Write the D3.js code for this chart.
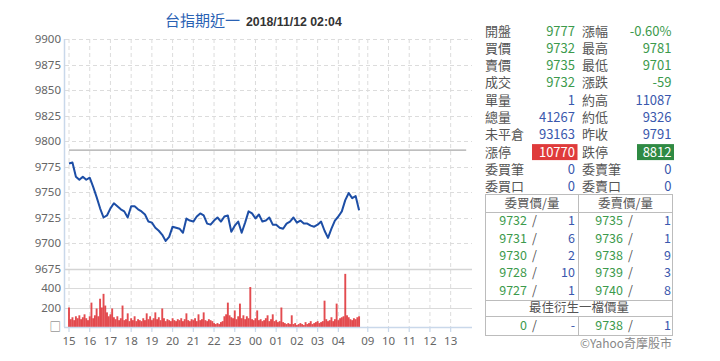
<!DOCTYPE html>
<html><head><meta charset="utf-8">
<script src="https://cdn.jsdelivr.net/npm/d3@7/dist/d3.min.js"></script>
<style>
html,body{margin:0;padding:0;background:#fff;}
svg{display:block;}
</style></head>
<body><svg id="c" width="720" height="361"></svg>
<script>
// ---------- DATA ----------
const title = "台指期近一";
const stamp = "2018/11/12 02:04";
const prevClose = 9791;
// price every 10 minutes from 15:00 (night session) to 05:00
const priceValues = [9778,9779,9765,9762,9765,9762,9764,9755,9745,9734,9725,9727,9734,9739,9736,9733,9731,9725,9736,9736,9733,9731,9728,9721,9720,9715,9712,9708,9702,9706,9716,9715,9714,9710,9724,9722,9721,9726,9729,9727,9719,9718,9722,9725,9721,9726,9727,9711,9717,9721,9710,9720,9731,9729,9724,9728,9721,9722,9725,9718,9718,9715,9714,9719,9721,9725,9720,9722,9719,9719,9717,9716,9718,9721,9712,9705,9714,9722,9726,9731,9742,9749,9744,9746,9732];
// volume every 5 minutes from 15:00 to 05:00
const volumeValues = [200,80,100,70,110,90,120,80,100,130,90,70,110,250,90,120,190,110,290,200,340,220,150,110,130,190,100,80,110,70,90,220,70,80,140,60,90,70,110,60,80,70,60,90,70,140,80,110,70,90,150,80,100,70,190,90,60,80,70,60,90,70,60,80,70,90,60,80,140,70,60,80,70,90,60,130,70,80,150,70,60,80,70,60,40,30,40,30,50,60,110,130,250,120,100,90,170,80,110,240,90,120,80,110,90,410,80,70,90,170,70,80,60,70,90,120,60,80,130,60,70,50,60,200,50,40,30,40,30,120,30,40,20,30,40,30,20,50,30,40,60,30,40,50,60,40,50,60,270,80,60,70,100,60,80,240,70,90,100,110,545,120,100,80,70,90,80,100,110];
const priceTicks = [9900,9875,9850,9825,9800,9775,9750,9725,9700,9675];
const volumeTicks = [400,200,0];
const hourLabels = ["15","16","17","18","19","20","21","22","23","00","01","02","03","04","09","10","11","12","13"];
const hourValues = [15,16,17,18,19,20,21,22,23,0,1,2,3,4,9,10,11,12,13];

const quoteRows = [
  ["開盤","9777","g","漲幅","-0.60%","g"],
  ["買價","9732","g","最高","9781","g"],
  ["賣價","9735","g","最低","9701","g"],
  ["成交","9732","g","漲跌","-59","g"],
  ["單量","1","b","約高","11087","b"],
  ["總量","41267","b","約低","9326","b"],
  ["未平倉","93163","b","昨收","9791","b"],
  ["漲停","10770","R","跌停","8812","G"],
  ["委買筆","0","b","委賣筆","0","b"],
  ["委買口","0","b","委賣口","0","b"]
];
const bidPrices = ["9732","9731","9730","9728","9727"];
const bidQty = ["1","6","2","10","1"];
const askPrices = ["9735","9736","9738","9739","9740"];
const askQty = ["1","1","9","3","8"];
const bestRow = ["0","-","9738","1"];

// ---------- SCALES ----------
// session offset in hours: night 15:00..05:00 -> 0..14, day 09:00 -> 14.42
function sessionOffset(h){
  if (h >= 15) return h - 15;
  if (h < 8) return h + 9;
  return h - 9 + 14.42;
}
const x = d3.scaleLinear().domain([0, 19.17]).range([69, 466.2]);
const yP = d3.scaleLinear().domain([9675, 9900]).range([268.5, 39]);
const yV = d3.scaleLinear().domain([0, 400]).range([327, 288]);

const svg = d3.select("#c");
const FONT = "'Noto Sans', 'Noto Sans CJK TC', sans-serif";
const CJK = "'Noto Sans CJK TC', sans-serif";

// ---------- GRID ----------
const gx0 = 65, gx1 = 472;
const grid = svg.append("g");
grid.selectAll("line.vg").data(hourValues.map(sessionOffset).concat([14]))
  .enter().append("line")
  .attr("x1", d => x(d)).attr("x2", d => x(d))
  .attr("y1", 39).attr("y2", 327)
  .attr("stroke", "#dcdcdc").attr("stroke-dasharray", "4,3").attr("stroke-width", 1);
grid.selectAll("line.hg").data(priceTicks.slice(0, -1))
  .enter().append("line")
  .attr("x1", gx0).attr("x2", gx1)
  .attr("y1", d => Math.round(yP(d)) + 0.5).attr("y2", d => Math.round(yP(d)) + 0.5)
  .attr("stroke", "#dcdcdc").attr("stroke-dasharray", "4,3");
grid.append("line").attr("x1", gx0).attr("x2", gx1)
  .attr("y1", Math.round(yP(9675)) + 0.5).attr("y2", Math.round(yP(9675)) + 0.5)
  .attr("stroke", "#d4d4d4").attr("stroke-width", 1.5);
grid.selectAll("line.vgl").data([400, 200]).enter().append("line")
  .attr("x1", gx0).attr("x2", gx1)
  .attr("y1", d => Math.round(yV(d)) + 0.5).attr("y2", d => Math.round(yV(d)) + 0.5)
  .attr("stroke", "#dadada").attr("stroke-width", 1.2);

// reference line (previous close)
svg.append("line").attr("x1", x(0)).attr("x2", x(19.17))
  .attr("y1", yP(prevClose)).attr("y2", yP(prevClose))
  .attr("stroke", "#a8a8a8").attr("stroke-width", 1.3);

// ---------- VOLUME BARS ----------
const bw = 1.9;
svg.append("g").selectAll("rect").data(volumeValues).enter().append("rect")
  .attr("x", (d, i) => x(i / 12) - bw / 2)
  .attr("width", bw)
  .attr("y", d => yV(d))
  .attr("height", d => yV(0) - yV(d))
  .attr("fill", "#e0373c").attr("fill-opacity", 0.9);

// ---------- PRICE LINE ----------
const line = d3.line().x((d, i) => x(i / 6)).y(d => yP(d));
svg.append("path").datum(priceValues)
  .attr("d", line).attr("fill", "none")
  .attr("stroke", "#1d4ea6").attr("stroke-width", 2).attr("stroke-linejoin", "round");

// ---------- AXES ----------
svg.append("line").attr("x1", 64.5).attr("x2", 64.5).attr("y1", 39).attr("y2", 327)
  .attr("stroke", "#c9d8ea").attr("stroke-width", 1.5);
svg.append("line").attr("x1", 64).attr("x2", gx1).attr("y1", 327.5).attr("y2", 327.5)
  .attr("stroke", "#c9d8ea").attr("stroke-width", 1.5);
svg.append("g").selectAll("line").data(hourValues.map(sessionOffset)).enter().append("line")
  .attr("x1", d => x(d)).attr("x2", d => x(d)).attr("y1", 327).attr("y2", 332)
  .attr("stroke", "#c9d8ea").attr("stroke-width", 1.2);

svg.append("g").selectAll("text").data(priceTicks).enter().append("text")
  .attr("x", 61).attr("y", d => yP(d)).attr("dy", "0.35em")
  .attr("text-anchor", "end").attr("font-family", FONT).attr("font-size", 11.5)
  .attr("fill", "#666").text(d => d);
svg.append("g").selectAll("text").data(volumeTicks).enter().append("text")
  .attr("x", 61).attr("y", d => yV(d)).attr("dy", "0.35em")
  .attr("text-anchor", "end").attr("font-family", FONT).attr("font-size", 11.5)
  .attr("fill", "#666").text(d => d === 0 ? "□" : d);
svg.append("g").selectAll("text").data(hourLabels).enter().append("text")
  .attr("x", (d, i) => x(sessionOffset(hourValues[i]))).attr("y", 341).attr("dy", "0.35em")
  .attr("text-anchor", "middle").attr("font-family", FONT).attr("font-size", 11.5)
  .attr("fill", "#666").text(d => d);

// ---------- TITLE ----------
svg.append("text").attr("x", 165).attr("y", 21).attr("dy", "0.35em")
  .attr("font-family", CJK).attr("font-size", 15).attr("fill", "#2a62b4").text(title);
svg.append("text").attr("x", 246).attr("y", 22).attr("dy", "0.35em")
  .attr("font-family", "'Liberation Sans', Arial, sans-serif").attr("font-weight", "bold")
  .attr("font-size", 12.3).attr("fill", "#333").text(stamp);

// ---------- QUOTE TABLE ----------
const colors = { g: "#3c9a4c", b: "#3a58ad" };
const qt = svg.append("g").attr("font-family", CJK).attr("font-size", 13);
quoteRows.forEach((r, i) => {
  const y = 31 + i * 17.3;
  qt.append("text").attr("x", 485).attr("y", y).attr("dy", "0.35em").attr("fill", "#555").text(r[0]);
  qt.append("text").attr("x", 582).attr("y", y).attr("dy", "0.35em").attr("fill", "#555").text(r[3]);
  [[r[1], r[2], 575, 532, 577.5], [r[4], r[5], 671.5, 637, 674]].forEach(([v, c, xr, bx0, bx1]) => {
    if (c === "R" || c === "G") {
      qt.append("rect").attr("x", bx0).attr("y", y - 8).attr("width", bx1 - bx0).attr("height", 16)
        .attr("fill", c === "R" ? "#df3b3b" : "#2f8a43");
      qt.append("text").attr("x", xr).attr("y", y).attr("dy", "0.35em").attr("text-anchor", "end")
        .attr("fill", "#fff").text(v);
    } else {
      qt.append("text").attr("x", xr).attr("y", y).attr("dy", "0.35em").attr("text-anchor", "end")
        .attr("fill", colors[c]).text(v);
    }
  });
});

// ---------- ORDER BOOK ----------
const ob = svg.append("g").attr("font-family", CJK).attr("font-size", 12.5);
const bx0 = 485.5, bx1 = 672.5, bmid = 578.5, by0 = 194.5, by1 = 335.5;
ob.append("rect").attr("x", bx0).attr("y", by0).attr("width", bx1 - bx0).attr("height", by1 - by0)
  .attr("fill", "none").attr("stroke", "#bcbcbc");
[[bmid, by0, bmid, 300.5], [bmid, 316.5, bmid, by1], [bx0, 212.5, bx1, 212.5], [bx0, 300.5, bx1, 300.5], [bx0, 316.5, bx1, 316.5]]
  .forEach(l => ob.append("line").attr("x1", l[0]).attr("y1", l[1]).attr("x2", l[2]).attr("y2", l[3]).attr("stroke", "#bcbcbc"));
ob.append("text").attr("x", (bx0 + bmid) / 2).attr("y", 203.5).attr("dy", "0.35em").attr("text-anchor", "middle").attr("fill", "#555").text("委買價/量");
ob.append("text").attr("x", (bmid + bx1) / 2).attr("y", 203.5).attr("dy", "0.35em").attr("text-anchor", "middle").attr("fill", "#555").text("委賣價/量");
function bookRow(y, p1, q1, p2, q2) {
  ob.append("text").attr("x", 527).attr("y", y).attr("dy", "0.35em").attr("text-anchor", "end").attr("fill", colors.g).text(p1);
  ob.append("text").attr("x", 532).attr("y", y).attr("dy", "0.35em").attr("fill", "#555").text("/");
  ob.append("text").attr("x", 575).attr("y", y).attr("dy", "0.35em").attr("text-anchor", "end").attr("fill", colors.b).text(q1);
  ob.append("text").attr("x", 623).attr("y", y).attr("dy", "0.35em").attr("text-anchor", "end").attr("fill", colors.g).text(p2);
  ob.append("text").attr("x", 628).attr("y", y).attr("dy", "0.35em").attr("fill", "#555").text("/");
  ob.append("text").attr("x", 671).attr("y", y).attr("dy", "0.35em").attr("text-anchor", "end").attr("fill", colors.b).text(q2);
}
bidPrices.forEach((p, i) => bookRow(221 + i * 17.3, p, bidQty[i], askPrices[i], askQty[i]));
ob.append("text").attr("x", (bx0 + bx1) / 2).attr("y", 308).attr("dy", "0.35em").attr("text-anchor", "middle").attr("fill", "#555").text("最佳衍生一檔價量");
bookRow(326, bestRow[0], bestRow[1], bestRow[2], bestRow[3]);

svg.append("text").attr("x", 672).attr("y", 343.5).attr("dy", "0.35em").attr("text-anchor", "end")
  .attr("font-family", CJK).attr("font-size", 12).attr("fill", "#888").text("©Yahoo奇摩股市");
</script>
</body></html>
